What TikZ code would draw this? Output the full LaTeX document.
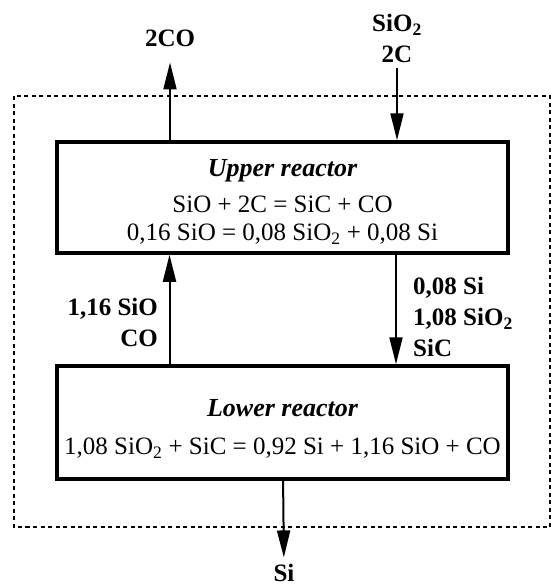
\documentclass[tikz,border=0pt]{standalone}
\usepackage{fontspec}
\setmainfont{Liberation Serif}
\usetikzlibrary{arrows.meta,positioning,calc}

\begin{document}
\begin{tikzpicture}[
        x=1pt, y=-1pt,
        % Global Styles
        reactor/.style={rectangle, draw, line width=3.5pt, minimum width=451pt, align=center, inner sep=0pt, font=\fontsize{25}{28}\selectfont},
        stream/.style={inner sep=0pt, font=\bfseries\fontsize{25}{31}\selectfont},
        flow/.style={line width=2pt, -{Triangle[length=27pt,width=13pt]}},
        boundary/.style={line width=2.8pt, dash pattern=on 4pt off 3.5pt}
    ]
    \useasboundingbox (0,0) rectangle (551,586);

    % --- Plant boundary ---
    \draw [boundary] (14,96) rectangle (550,527);

    % --- Reactors ---
    \node (upper) [reactor, minimum height=111pt] at (282.5,197.5)
        {\rule{0pt}{26pt}{\bfseries\itshape\fontsize{26}{28}\selectfont Upper reactor} \\[8pt]
         SiO + 2C = SiC + CO \\
         0,16 SiO = 0,08 SiO\textsubscript{2} + 0,08 Si};
    \node (lower) [reactor, minimum height=113pt] at (282.5,422.5)
        {\rule{0pt}{30pt}{\bfseries\itshape\fontsize{26}{28}\selectfont Lower reactor} \\[10pt]
         1,08 SiO\textsubscript{2} + SiC = 0,92 Si + 1,16 SiO + CO};

    % --- Streams ---
    \node (exhaust) [stream, anchor=base] at (170,47) {2CO};
    \node (feed) [stream, anchor=south, align=center] at (397,63) {SiO\textsubscript{2} \\ 2C};
    \node (gas) [stream, anchor=north east, align=right] at (158,298) {1,16 SiO \\ CO};
    \node (solids) [stream, anchor=north west, align=left] at (413,277) {0,08 Si \\ 1,08 SiO\textsubscript{2} \\ SiC};
    \node (product) [stream, anchor=base] at (284,581) {Si};

    % --- Connections ---
    \draw [flow, shorten >=15pt] (upper.north -| exhaust) -- (exhaust);
    \draw [flow, shorten <=5pt] (feed) -- (feed |- upper.north);
    \draw [flow] ($(lower.north)+(-113,0)$) -- ($(upper.south)+(-113,0)$);
    \draw [flow] ($(upper.south)+(113.5,0)$) -- ($(lower.north)+(113.5,0)$);
    \draw [flow, shorten >=6pt] (lower) -- (product);

\end{tikzpicture}
\end{document}
